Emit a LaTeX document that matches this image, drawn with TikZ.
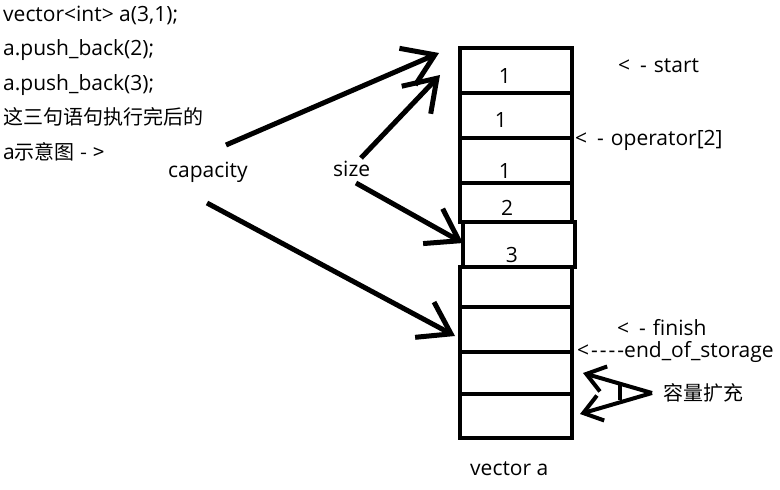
\documentclass[tikz,border=0pt]{standalone}
\usepackage{fontspec}
\setmainfont{Open Sans}
\newfontfamily\cjk{Noto Sans CJK SC}[Scale=0.952]
\usetikzlibrary{arrows.meta}

\begin{document}
\begin{tikzpicture}[
  x=1pt, y=-1pt,
  font=\fontsize{21}{24}\selectfont,
  cell/.style={draw, line width=4pt, minimum width=112pt, inner sep=0pt},
  num/.style={anchor=base, inner sep=0pt},
  lbl/.style={anchor=base west, inner sep=0pt},
  arr/.style={-{Straight Barb[length=30pt,width=40pt]}, line width=5pt},
  brc/.style={-{Straight Barb[length=18pt,width=26pt]}, line width=4pt},
]
\useasboundingbox (0,0) rectangle (780,490);

% ---------------- code lines (top left) ----------------
\foreach \txt [count=\i] in {{vector<int> a(3,1);}, {a.push\_back(2);}, {a.push\_back(3);},
    {{\cjk 这三句语句执行完后的}}, {a{\cjk 示意图\hspace{6pt}-\hspace{6pt}>}}} {
  \node[lbl] (code\i) at (3,{21+34.5*(\i-1)}) {\txt};
}

% ---------------- vector cells ----------------
% top/bottom of each cell, x shift of the fifth one
\foreach \t/\b/\dx [count=\i] in {48/93/0, 93/138/0, 138/183/0, 183/222/0, 222/267/3,
    267/307/0, 307/352/0, 352/394/0, 394/438/0} {
  \node[cell, minimum height={(\b-\t)*1pt}] (c\i) at ({516+\dx},{(\t+\b)/2}) {};
}
\foreach \v/\nx/\ny [count=\i] in {1/505/83, 1/501/127, 1/505/178, 2/507/215, 3/512/262} {
  \node[num] (n\i) at (\nx,\ny) {\v};
}
\node[lbl] (vname) at (470,475) {vector a};

% ---------------- pointers (right) ----------------
\node[lbl] (start) at (618,72) {<\hspace{10pt}-\hspace{7pt}start};
\node[lbl] (oper) at (575,145) {<\hspace{10pt}-\hspace{7pt}operator[2]};
\node[lbl] (finish) at (617,335) {<\hspace{10pt}-\hspace{7pt}finish};
\node[lbl] (eos) at (577,357)
  {<\hspace{2pt}-\hspace{2pt}-\hspace{2pt}-\hspace{2pt}-end\_of\_storage};

% ---------------- capacity / size arrows ----------------
\node[lbl] (cap) at (168,177) {capacity};
\node[lbl] (size) at (333,176) {size};

\coordinate (capA) at (226,145);
\coordinate (capB) at (207,203);
\coordinate (sizeA) at (361,158);
\coordinate (sizeB) at (356,183);
\coordinate (tCapA) at (439,53);
\coordinate (tCapB) at (455,336);
\coordinate (tSizeA) at (440,75);
\coordinate (tSizeB) at (463,243);

\draw[arr] (capA) -- (tCapA);
\draw[arr] (capB) -- (tCapB);
\draw[arr] (sizeA) -- (tSizeA);
\draw[arr] (sizeB) -- (tSizeB);

% ---------------- capacity growth ----------------
\node[lbl] (grow) at (663,400) {\cjk 容量扩充};
\coordinate (gMid) at (652,393);
\coordinate (gUp) at (583,373);
\coordinate (gDn) at (580,414);
\draw[brc] (gMid) -- (gUp);
\draw[brc] (gMid) -- (gDn);
\draw[line width=4pt] (620,385) -- (620,400);

\end{tikzpicture}
\end{document}
